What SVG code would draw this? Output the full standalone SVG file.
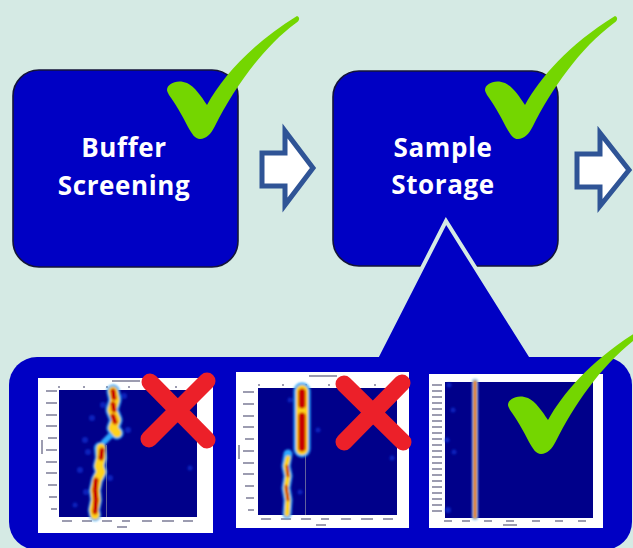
<svg xmlns="http://www.w3.org/2000/svg" xmlns:xlink="http://www.w3.org/1999/xlink" width="633" height="548" viewBox="0 0 633 548">
<defs>
<style>
.box{fill:#0000C4;stroke:#14143a;stroke-width:1.6}
.lbl{font-family:"Open Sans","Liberation Sans",Arial,sans-serif;font-weight:bold;font-size:26px;fill:#ffffff;text-anchor:middle;letter-spacing:0.6px}
.arrow{fill:#ffffff;stroke:#2F5496;stroke-width:5;stroke-linejoin:miter}
.check{fill:#74D600}
.xmark{stroke:#EC2029;stroke-width:17;stroke-linecap:round;fill:none}
.frame{fill:#ffffff}
.plot{fill:#00008A}
.tk{fill:#9c9cb0}
.c1{fill:none;stroke:#2ea8ff;stroke-linecap:round;stroke-linejoin:round}
.c2{fill:none;stroke:#ffd21a;stroke-linecap:round;stroke-linejoin:round}
.c3{fill:none;stroke:#c80000;stroke-linecap:round;stroke-linejoin:round}
.spot{fill:#1a3ee8;opacity:0.55}
</style>
<filter id="soft" x="-20%" y="-20%" width="140%" height="140%"><feGaussianBlur stdDeviation="0.9"/></filter>
<path id="checkmark" d="M 167,90 C 167,83 178,79 187,83 C 195,87 201,96 207,105 C 222,78 250,45 297,16 C 300,17 300,21 296,23 C 262,48 233,90 215,126 C 211,134 206,139 200,139 C 195,139 192,134 188,127 C 182,115 175,103 169,95 C 168,93 167,91 167,90 Z"/>
<g id="ticksY">
<rect x="0" y="0" width="11" height="2"/><rect x="0" y="12" width="11" height="2"/><rect x="0" y="24" width="11" height="2"/><rect x="0" y="35" width="11" height="2"/><rect x="2" y="47" width="9" height="2"/><rect x="0" y="59" width="11" height="2"/><rect x="0" y="71" width="11" height="2"/><rect x="0" y="82" width="11" height="2"/><rect x="2" y="94" width="9" height="2"/><rect x="3" y="106" width="8" height="2"/><rect x="5" y="118" width="6" height="2"/>
</g>
</defs>
<rect x="0" y="0" width="633" height="548" fill="#D5EAE4"/>

<g id="connectors">
<path id="arrow1" class="arrow" d="M 262,153 L 285,153 L 285,131 L 313,168 L 285,205 L 285,186 L 262,186 Z"/>
<path id="arrow2" class="arrow" d="M 577,154 L 600,154 L 600,133 L 629,170 L 600,206 L 600,187 L 577,187 Z"/>
</g>

<g id="node-buffer-screening">
<rect class="box" x="13" y="70" width="225" height="197" rx="26" ry="26"/>
<text class="lbl" x="124" y="157">Buffer</text>
<text class="lbl" x="124" y="195">Screening</text>
</g>

<g id="node-sample-storage">
<rect class="box" x="333" y="71" width="225" height="195" rx="26" ry="26"/>
<text class="lbl" x="443" y="157">Sample</text>
<text class="lbl" x="443" y="194">Storage</text>
</g>

<g id="callout">
<path d="M 446,221 L 372,366 L 537,366 Z" fill="#0000C4" stroke="#D5EAE4" stroke-width="4" stroke-linejoin="miter"/>
<rect x="9" y="357" width="623" height="193" rx="28" ry="28" fill="#0000C4"/>
</g>

<g id="plot-1">
<rect class="frame" x="38" y="378" width="175" height="155"/>
<rect class="plot" x="59" y="390" width="138" height="127"/>
<g class="tk"><use xlink:href="#ticksY" transform="translate(46,390)"/>
<rect x="62" y="520" width="10" height="2"/><rect x="82" y="520" width="10" height="2"/><rect x="102" y="520" width="10" height="2"/><rect x="122" y="520" width="8" height="2"/><rect x="142" y="520" width="10" height="2"/><rect x="162" y="520" width="12" height="2"/><rect x="183" y="520" width="10" height="2"/>
<rect x="117" y="526" width="10" height="2"/><rect x="112" y="380" width="28" height="2"/>
<rect x="58" y="386" width="2" height="2"/><rect x="83" y="386" width="2" height="2"/><rect x="106" y="386" width="2" height="2"/><rect x="128" y="386" width="2" height="2"/><rect x="175" y="386" width="2" height="2"/>
<rect x="41" y="440" width="2" height="14"/></g>
<rect x="106" y="445" width="0.8" height="72" fill="#7a7aa0"/>
<g filter="url(#soft)">
<circle class="spot" cx="124" cy="396" r="3"/><circle class="spot" cx="103" cy="405" r="3"/><circle class="spot" cx="92" cy="418" r="3"/><circle class="spot" cx="128" cy="430" r="3"/><circle class="spot" cx="85" cy="440" r="3"/><circle class="spot" cx="88" cy="452" r="3"/><circle class="spot" cx="80" cy="470" r="3"/><circle class="spot" cx="110" cy="478" r="3"/><circle class="spot" cx="86" cy="492" r="3"/><circle class="spot" cx="190" cy="468" r="2.5"/><circle class="spot" cx="75" cy="505" r="2.5"/>
<path class="c1" stroke-width="13" d="M 113,391 L 115,400 L 112,410 L 116,420 L 113,428 L 117,433"/>
<path class="c1" stroke-width="6" d="M 110,436 L 104,442"/>
<path class="c1" stroke-width="12" d="M 100,448 L 101,458 L 99,466 L 101,472 L 97,480 L 95,490 L 96,500 L 94,510 L 95,515"/>
<path class="c2" stroke-width="9" d="M 113,391 L 115,400 L 112,410 L 116,420 L 113,428 L 117,433 M 101,448 L 101,458 L 99,466 L 101,472 L 97,480 L 95,490 L 96,500 L 94,510 L 95,515"/>
<path class="c3" stroke-width="5" d="M 113,391 L 114,398 M 113,404 L 114,410 M 113,416 L 115,422 M 102,450 L 101,458 M 96,480 L 95,490 L 96,500 L 95,512"/>
</g>
</g>

<g id="plot-2">
<rect class="frame" x="236" y="372" width="173" height="156"/>
<rect class="plot" x="258" y="388" width="139" height="127"/>
<g class="tk"><use xlink:href="#ticksY" transform="translate(243,391)"/>
<rect x="261" y="518" width="10" height="2"/><rect x="281" y="518" width="10" height="2"/><rect x="301" y="518" width="10" height="2"/><rect x="321" y="518" width="8" height="2"/><rect x="341" y="518" width="10" height="2"/><rect x="361" y="518" width="12" height="2"/><rect x="383" y="518" width="10" height="2"/>
<rect x="316" y="524" width="10" height="2"/><rect x="309" y="375" width="28" height="2"/>
<rect x="258" y="384" width="2" height="2"/><rect x="282" y="384" width="2" height="2"/><rect x="305" y="384" width="2" height="2"/><rect x="328" y="384" width="2" height="2"/><rect x="374" y="384" width="2" height="2"/>
<rect x="238" y="445" width="2" height="14"/></g>
<rect x="305" y="452" width="0.8" height="63" fill="#7a7aa0"/>
<g filter="url(#soft)">
<circle class="spot" cx="290" cy="400" r="2.5"/><circle class="spot" cx="318" cy="430" r="2.5"/><circle class="spot" cx="392" cy="458" r="2.5"/><circle class="spot" cx="300" cy="492" r="2.5"/>
<path class="c1" stroke-width="17" d="M 302,391 L 302,449"/>
<path class="c2" stroke-width="12" d="M 302,391 L 302,449"/>
<path class="c3" stroke-width="7" d="M 302,392 L 302,405 M 302,416 L 302,448"/>
<path class="c1" stroke-width="9" d="M 288,454 L 286,466 L 288,476 L 286,488 L 288,500 L 287,514"/>
<path class="c2" stroke-width="5" d="M 288,458 L 286,466 L 288,476 L 286,488 L 288,500 L 287,514"/>
<path class="c3" stroke-width="2.5" d="M 287,466 L 288,476 M 286,486 L 288,500"/>
</g>
</g>

<g id="plot-3">
<rect class="frame" x="429" y="374" width="174" height="154"/>
<rect class="plot" x="445" y="382" width="148" height="136"/>
<g class="tk">
<rect x="432" y="384" width="10" height="2"/><rect x="432" y="390" width="10" height="2"/><rect x="432" y="396" width="10" height="2"/><rect x="432" y="402" width="10" height="2"/><rect x="432" y="408" width="10" height="2"/><rect x="432" y="414" width="10" height="2"/><rect x="432" y="420" width="10" height="2"/><rect x="432" y="426" width="10" height="2"/><rect x="432" y="432" width="10" height="2"/><rect x="432" y="438" width="10" height="2"/><rect x="432" y="444" width="10" height="2"/><rect x="432" y="450" width="10" height="2"/><rect x="432" y="456" width="10" height="2"/><rect x="432" y="462" width="10" height="2"/><rect x="432" y="468" width="10" height="2"/><rect x="432" y="474" width="10" height="2"/><rect x="432" y="480" width="10" height="2"/><rect x="432" y="486" width="10" height="2"/><rect x="432" y="492" width="10" height="2"/><rect x="432" y="498" width="10" height="2"/><rect x="432" y="504" width="10" height="2"/><rect x="432" y="510" width="10" height="2"/>
<rect x="444" y="520" width="8" height="2"/><rect x="462" y="520" width="8" height="2"/><rect x="484" y="520" width="8" height="2"/><rect x="506" y="520" width="8" height="2"/><rect x="532" y="520" width="8" height="2"/><rect x="555" y="520" width="8" height="2"/><rect x="578" y="520" width="8" height="2"/>
<rect x="503" y="524" width="14" height="2"/></g>
<g filter="url(#soft)">
<circle class="spot" cx="449" cy="385" r="2.5"/><circle class="spot" cx="453" cy="410" r="2.5"/><circle class="spot" cx="447" cy="440" r="2.5"/><circle class="spot" cx="454" cy="452" r="2.5"/><circle class="spot" cx="448" cy="510" r="3"/>
<path class="c1" stroke-width="6" d="M 475,382 L 475,517"/>
<path class="c2" stroke-width="4" d="M 475,382 L 475,517" stroke="#ff9a1a"/>
<path class="c3" stroke-width="2" d="M 475,382 L 475,517" stroke="#e03000"/>
</g>
</g>

<g id="marks">
<use xlink:href="#checkmark" class="check"/>
<use xlink:href="#checkmark" class="check" transform="translate(318,0)"/>
<use xlink:href="#checkmark" class="check" transform="translate(341,315)"/>
<path class="xmark" d="M 150,382 L 207,440 M 207,381 L 149,439"/>
<path class="xmark" d="M 344,384 L 403,442 M 402,383 L 344,442"/>
</g>
</svg>
